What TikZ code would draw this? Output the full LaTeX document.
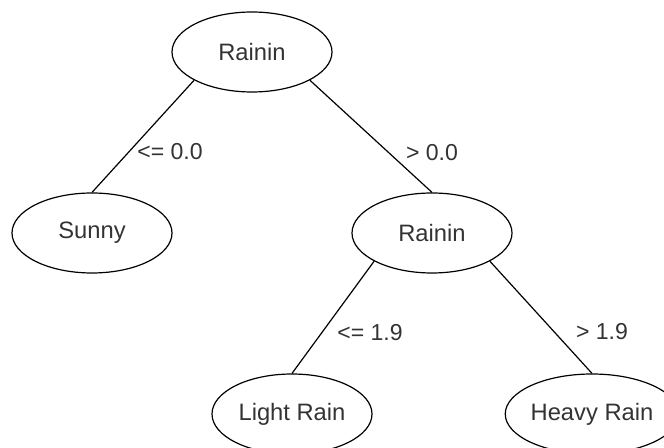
\documentclass[tikz,border=0pt]{standalone}
\usepackage{fontspec}
\setmainfont{Liberation Sans}
\usetikzlibrary{shapes.geometric}

\definecolor{txtgray}{rgb}{0.2,0.2,0.2}
\tikzset{
  treenode/.style={draw, ellipse, line width=0.9pt, minimum width=120pt, minimum height=60pt,
    inner sep=0pt, text=txtgray, font=\fontsize{17.8}{20}\selectfont},
  edgelabel/.style={inner sep=0pt, text=txtgray, font=\fontsize{17.3}{20}\selectfont},
  branch/.style={line width=0.9pt}
}

\begin{document}
\begin{tikzpicture}[x=0.75pt,y=0.75pt,yscale=-1,xscale=1]
        \clip (0,0) rectangle (664,448);
        % Nodes
        \node [treenode] (root) at (252,52) {Rainin};
        \node [treenode] (sunny) at (92,233) {Sunny};
        \node [treenode] (rain) at (432,233) {Rainin};
        \node [treenode] (light) at (292,414) {Light Rain};
        \node [treenode] (heavy) at (592,414) {Heavy Rain};
        % Edges
        \draw [branch] (root.206) -- (sunny.north);
        \draw [branch] (root.334) -- (rain.north);
        \draw [branch] (rain.206) -- (light.north);
        \draw [branch] (rain.334) -- (heavy.north);
        % Edge labels
        \node [edgelabel] (lblA) at (170,152) {<= 0.0};
        \node [edgelabel] (lblB) at (432,153) {> 0.0};
        \node [edgelabel] (lblC) at (370,333) {<= 1.9};
        \node [edgelabel] (lblD) at (602,332) {> 1.9};
    \end{tikzpicture}
\end{document}
